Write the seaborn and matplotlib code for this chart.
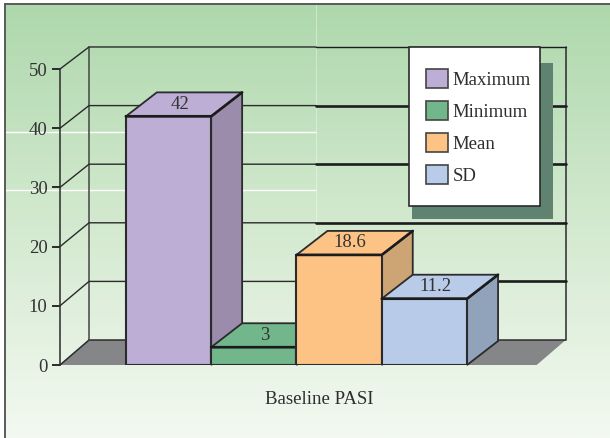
import numpy as np
import pandas as pd
import matplotlib
matplotlib.use('Agg')
import matplotlib.pyplot as plt
from matplotlib.patches import Patch, Rectangle
import seaborn as sns

# valores
stats = ['Maximum', 'Minimum', 'Mean', 'SD']
values = [42, 3, 18.6, 11.2]
value_labels = ['42', '3', '18.6', '11.2']
front_colors = ['#bcaed4', '#72b68b', '#fdc384', '#b8cbe8']
side_colors = ['#9b8cab', '#5f9a75', '#cda474', '#90a3ba']
y_ticks = [0, 10, 20, 30, 40, 50]
x_title = 'Baseline PASI'

sns.set_theme(style='ticks')
plt.rcParams['font.family'] = ['Liberation Serif', 'DejaVu Serif']
ink = '#2b2a2c'

W, H = 610, 438
fig = plt.figure(figsize=(W / 100, H / 100), dpi=100, facecolor='white')

# fondo degradado
bg = fig.add_axes([5 / W, 0, 605 / W, 434 / H])
gradient = np.linspace(0, 1, 256).reshape(-1, 1)
cmap = matplotlib.colors.LinearSegmentedColormap.from_list(
    'bg', ['#aed8ac', '#d3e9cf', '#f3f9f1'])
bg.imshow(gradient, aspect='auto', cmap=cmap, extent=[5, W, H, 4], zorder=0)
bg.set_xticks([])
bg.set_yticks([])
for side in ['right', 'bottom']:
    bg.spines[side].set_visible(False)
for side in ['left', 'top']:
    bg.spines[side].set_color('#5a5a5a')
    bg.spines[side].set_linewidth(1.4)
# lineas claras del fondo
bg.hlines([132, 190], 5, 316, color='white', lw=1.0, zorder=1)
bg.vlines(316, 4, 300, color='white', lw=0.6, alpha=0.45, zorder=1)

# ejes: y=0 en pixel 365, y=50 en pixel 69
ax = fig.add_axes([60 / W, (H - 365) / H, 476.7 / W, 296 / H])
ax.patch.set_alpha(0)
df = pd.DataFrame({'stat': stats, 'value': values})
sns.barplot(data=df, x='stat', y='value', hue='stat', hue_order=stats,
            palette=front_colors, saturation=1, width=1, dodge=False,
            edgecolor=ink, linewidth=1.5, legend=False, ax=ax)
bars = [p for p in ax.patches if p.get_height() > 0]

x_left, x_right = -1.272, 4.316
ax.set_xlim(x_left, x_right)
ax.set_ylim(0, 50)
ax.set_xticks([])
ax.set_yticks(y_ticks)
ax.tick_params(axis='y', length=6, width=1.4, color=ink, labelsize=13.5,
               labelcolor='#333333', pad=3)
ax.set_ylabel('')
ax.set_xlabel(x_title, fontsize=13.5, color='#2e2e2e')
ax.xaxis.set_label_coords(0.543, -0.118)
ax.xaxis.label.set_verticalalignment('center')
sns.despine(ax=ax, bottom=True)
ax.spines['left'].set_color(ink)
ax.spines['left'].set_linewidth(1.1)

# profundidad de la perspectiva
dx, dy = 0.363, 4.05
wall_dx, wall_dy = 0.34, 4.22
wall_y = lambda v: wall_dy + 0.99 * v
wall_l, wall_r = x_left + wall_dx, x_right + wall_dx
split_x = 1.73

# suelo y paredes
ax.fill([x_left, wall_l, wall_r, x_right], [0, wall_dy, wall_dy, 0],
        color='#858688', lw=0, zorder=1, clip_on=False)
ax.plot([x_left, wall_l, wall_r], [0, wall_dy, wall_dy], color=ink, lw=1.1,
        zorder=1.2, clip_on=False)
ax.plot([wall_l, wall_l], [wall_dy, wall_y(50)], color='#444444', lw=1.1,
        zorder=1.2, clip_on=False)
ax.plot([wall_r, wall_r], [wall_dy, wall_y(50)], color=ink, lw=1.1,
        zorder=1.2, clip_on=False)
for v in y_ticks[1:]:
    ax.plot([x_left, wall_l, split_x], [v, wall_y(v), wall_y(v)], color=ink,
            lw=1.0, zorder=1.2, clip_on=False)
    ax.plot([split_x, wall_r], [wall_y(v), wall_y(v)], color='#1c1b1d',
            lw=1.0 if v == 50 else 1.9, zorder=1.2, clip_on=False)

# caras laterales y superiores de cada barra
for i, bar in enumerate(bars):
    x0 = bar.get_x()
    x1 = x0 + bar.get_width()
    top = bar.get_height()
    z = 3 + i
    bar.set_zorder(z + 0.2)
    ax.fill([x1, x1 + dx, x1 + dx, x1], [0, dy, top + dy, top],
            facecolor=side_colors[i], edgecolor=ink, lw=1.3, zorder=z,
            clip_on=False)
    ax.fill([x0, x0 + dx, x1 + dx, x1], [top, top + dy, top + dy, top],
            facecolor=front_colors[i], edgecolor=ink, lw=1.3, zorder=z + 0.1,
            clip_on=False)
    ax.plot([x0, x1, x1 + dx], [top, top, top + dy], color='#1c1b1d', lw=1.9,
            zorder=z + 0.3, clip_on=False, solid_joinstyle='miter')
    ax.text(i + 0.13, top + dy / 2, value_labels[i], ha='center',
            va='center', fontsize=13.5, color='#333333', zorder=z + 0.4)

# caja de la leyenda con su sombra
ax.add_patch(Rectangle((412 / W, (H - 219) / H), 141 / W, 156 / H,
                       transform=fig.transFigure, facecolor='#5f8370',
                       edgecolor='none', zorder=18, clip_on=False))
ax.add_patch(Rectangle((409 / W, (H - 206) / H), 131 / W, 159 / H,
                       transform=fig.transFigure, facecolor='white',
                       edgecolor=ink, lw=1.2, zorder=19, clip_on=False))

# leyenda
handles = [Patch(facecolor=c, edgecolor='#444444', linewidth=1.2)
           for c in front_colors]
leg = ax.legend(handles, stats, loc='upper left',
                bbox_to_anchor=(426 / W, (H - 69) / H),
                bbox_transform=fig.transFigure, borderaxespad=0,
                fontsize=13.5, frameon=False, borderpad=0,
                labelspacing=0.66, handlelength=1.17, handleheight=1.17,
                handletextpad=0.25)
leg.set_zorder(20)
for t in leg.get_texts():
    t.set_color('#2e2e2e')

fig.savefig('out.png', dpi=100)
